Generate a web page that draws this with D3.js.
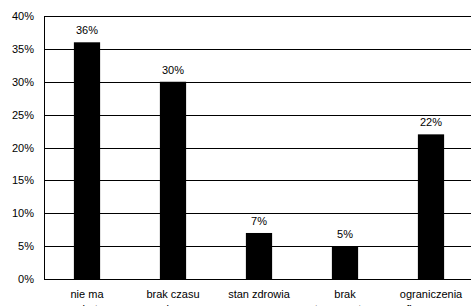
<!DOCTYPE html>
<html>
<head>
<meta charset="utf-8">
<script src="https://cdn.jsdelivr.net/npm/d3@7"></script>
<style>
  body { margin: 0; background: #fff; overflow: hidden; }
  text { font-family: "Liberation Sans", Arial, sans-serif; }
</style>
</head>
<body>
<div id="chart"></div>
<script>
// Consts {{{
const categories = ["nie ma|ochoty", "brak czasu|wolnego", "stan zdrowia|", "brak|towarzystwa", "ograniczenia|finansowe"];
const values = [0.36, 0.30, 0.07, 0.05, 0.22];
const y_ticks = [0, 0.05, 0.10, 0.15, 0.20, 0.25, 0.30, 0.35, 0.40];

const margin = {top: 16, right: -3, bottom: 27, left: 44};
const total_w = 471, total_h = 306;
const width = total_w - margin.left - margin.right;
const height = total_h - margin.top - margin.bottom;
const bar_color = "#000";
const line_color = "#000";

const svg = d3.select("#chart").append("svg")
    .attr("width", total_w)
    .attr("height", total_h)
    .style("display", "block")
    .append("g")
    .attr("transform", "translate(" + margin.left + "," + margin.top + ")");
//}}}
// Scales {{{
const x = d3.scaleBand()
    .domain(categories)
    .range([0, width])
    .padding(0);

const y = d3.scaleLinear()
    .domain([0, 0.4])
    .range([height, 0]);

const pct = d3.format(".0%");
//}}}
// Grid + y axis {{{
const yAxis = svg.append("g")
    .call(d3.axisLeft(y)
        .tickValues(y_ticks)
        .tickSize(-width)
        .tickPadding(10)
        .tickFormat(pct));
yAxis.select(".domain").remove();
yAxis.selectAll(".tick line")
    .attr("stroke", line_color)
    .attr("stroke-width", 1)
    .attr("shape-rendering", "crispEdges");
yAxis.selectAll(".tick text")
    .attr("fill", "#000")
    .style("font-size", "11px");

// left border
svg.append("line")
    .attr("x1", 0).attr("x2", 0)
    .attr("y1", y(0.4)).attr("y2", y(0))
    .attr("stroke", line_color)
    .attr("shape-rendering", "crispEdges");
//}}}
// Bars {{{
const bw = x.bandwidth() * 0.305;

svg.selectAll("rect.bar")
    .data(values)
    .enter()
    .append("rect")
    .attr("class", "bar")
    .attr("x", (d, i) => x(categories[i]) + x.bandwidth() / 2 - bw / 2)
    .attr("y", d => y(d))
    .attr("width", bw)
    .attr("height", d => y(0) - y(d))
    .attr("fill", bar_color);

svg.selectAll("text.val")
    .data(values)
    .enter()
    .append("text")
    .attr("class", "val")
    .attr("x", (d, i) => x(categories[i]) + x.bandwidth() / 2)
    .attr("y", d => y(d) - 8)
    .attr("text-anchor", "middle")
    .style("font-size", "11px")
    .text(d => pct(d));
//}}}
// x axis labels {{{
// second line sits mostly below the window, as in the source picture
const xAxis = svg.append("g")
    .attr("transform", "translate(0," + height + ")")
    .call(d3.axisBottom(x).tickSize(0).tickFormat(""));
xAxis.select(".domain").remove();

xAxis.selectAll(".tick").each(function(d) {
    const parts = d.split("|");
    const t = d3.select(this).append("text")
        .attr("fill", "#000")
        .attr("text-anchor", "middle")
        .style("font-size", "11px");
    parts.forEach((p, i) => {
        t.append("tspan")
            .attr("x", 0)
            .attr("y", 19 + i * 15)
            .text(p);
    });
});
//}}}
</script>
</body>
</html>
